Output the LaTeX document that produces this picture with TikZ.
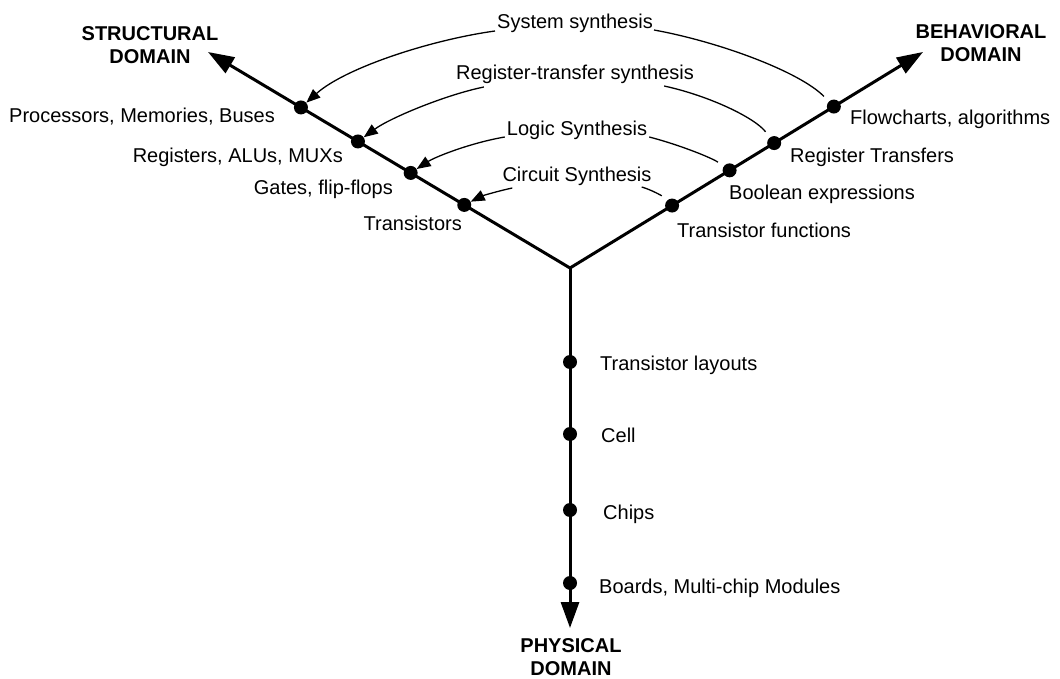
\documentclass[tikz,border=0pt]{standalone}
\usepackage{fontspec}
\setmainfont{Liberation Sans}
\usetikzlibrary{arrows.meta,calc}
\begin{document}
\begin{tikzpicture}[x=1pt,y=-1pt,
  lbl/.style={inner sep=0pt, font=\fontsize{20}{23}\selectfont},
  dom/.style={inner sep=0pt, font=\fontsize{20}{23}\selectfont\bfseries, align=center, anchor=base},
  dot/.style={circle, fill=black, inner sep=0pt, minimum size=14pt},
  axis/.style={line width=3pt},
  bigtip/.style={-{Triangle[length=26pt,width=18pt]}},
  syn/.style={line width=1.3pt},
  synarr/.style={line width=1.3pt, -{Triangle[length=14pt,width=11pt]}},
]
\useasboundingbox (0,0) rectangle (1060,679);

% axes
\coordinate (c) at (570,268);
\coordinate (sd) at (208,52);
\coordinate (bd) at (923,52);
\coordinate (pd) at (570,628);
\draw[axis, {Triangle[length=26pt,width=18pt]}-{Triangle[length=26pt,width=18pt]}] (sd) -- (c) -- (bd);
\draw[axis, bigtip] (c) -- (pd);

% dots
\node[dot] (s1) at ($(c)!(300,109)!(sd)$) {};
\node[dot] (s2) at ($(c)!(357,143)!(sd)$) {};
\node[dot] (s3) at ($(c)!(410,174)!(sd)$) {};
\node[dot] (s4) at ($(c)!(463,207)!(sd)$) {};
\node[dot] (b1) at ($(c)!(836,110)!(bd)$) {};
\node[dot] (b2) at ($(c)!(776,146)!(bd)$) {};
\node[dot] (b3) at ($(c)!(730,171)!(bd)$) {};
\node[dot] (b4) at ($(c)!(673,207)!(bd)$) {};
\node[dot] (p1) at (570,362) {};
\node[dot] (p2) at (570,434) {};
\node[dot] (p3) at (570,510) {};
\node[dot] (p4) at (570,583) {};

% domain labels (base = baseline of last line)
\node[dom] (sdl) at (150,64) {STRUCTURAL\\DOMAIN};
\node[dom] (bdl) at (981,62) {BEHAVIORAL\\DOMAIN};
\node[dom] (pdl) at (571,675) {PHYSICAL\\DOMAIN};

% structural labels
\node[lbl, anchor=base east] (ls1) at (275,123) {Processors, Memories, Buses};
\node[lbl, anchor=base east] (ls2) at (343,163) {Registers, ALUs, MUXs};
\node[lbl, anchor=base east] (ls3) at (393,195) {Gates, flip-flops};
\node[lbl, anchor=base east] (ls4) at (462,230) {Transistors};

% behavioral labels
\node[lbl, anchor=base west] (lb1) at (850,125) {Flowcharts, algorithms};
\node[lbl, anchor=base west] (lb2) at (790,163) {Register Transfers};
\node[lbl, anchor=base west] (lb3) at (729,200) {Boolean expressions};
\node[lbl, anchor=base west] (lb4) at (677,237) {Transistor functions};

% physical labels
\node[lbl, anchor=base west] (lp1) at (600,370) {Transistor layouts};
\node[lbl, anchor=base west] (lp2) at (601,442) {Cell};
\node[lbl, anchor=base west] (lp3) at (603,519) {Chips};
\node[lbl, anchor=base west] (lp4) at (599,593) {Boards, Multi-chip Modules};

% synthesis labels
\node[lbl, anchor=base] (sys) at (575,29) {System synthesis};
\node[lbl, anchor=base] (rt) at (575,80) {Register-transfer synthesis};
\node[lbl, anchor=base] (lg) at (577,136) {Logic Synthesis};
\node[lbl, anchor=base] (cs) at (577,182) {Circuit Synthesis};

% synthesis curves
\draw[synarr] ($(sys.base west)+(-2,2)$) .. controls (430,40) and (345,68) .. (s1);
\draw[syn, shorten <=7pt] (b1) .. controls (800,72) and (720,42) .. ($(sys.base east)+(1,1)$);

\draw[synarr] ($(rt.base west)+(28,7)$) .. controls (445,95) and (390,118) .. (s2);
\draw[syn, shorten <=7pt] (b2) .. controls (755,118) and (710,96) .. ($(rt.base east)+(-30,6)$);

\draw[synarr] ($(lg.base west)+(-2,1)$) .. controls (470,143) and (435,157) .. (s3);
\draw[syn, shorten <=7pt] (b3) .. controls (712,158) and (680,145) .. ($(lg.base east)+(2,1)$);

\draw[synarr] ($(cs.base west)+(10,6)$) .. controls (498,191) and (482,196) .. (s4);
\draw[syn, shorten <=7pt] (b4) .. controls (662,196) and (652,190) .. ($(cs.base east)+(-10,5)$);
\end{tikzpicture}
\end{document}
